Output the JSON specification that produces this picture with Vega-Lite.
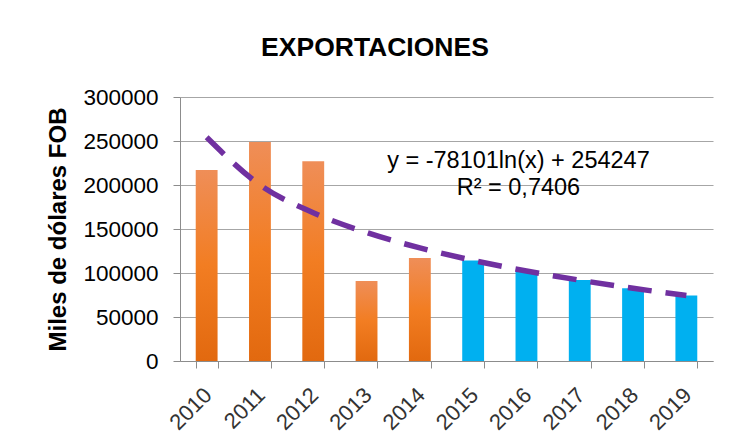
{
  "$schema": "https://vega.github.io/schema/vega-lite/v6.json",
  "width": 533,
  "height": 264,
  "autosize": {"type": "none"},
  "padding": {"left": 180, "top": 97, "right": 21, "bottom": 82},
  "background": "white",
  "config": {
    "font": "Liberation Sans",
    "view": {"stroke": null}
  },
  "title": {
    "text": "EXPORTACIONES",
    "font": "Liberation Sans",
    "fontSize": 26.5,
    "fontWeight": "bold",
    "color": "#000000",
    "anchor": "middle",
    "frame": "bounds",
    "baseline": "alphabetic",
    "offset": 4,
    "dx": -5
  },
  "datasets": {
    "exports": [
      {"year": "2010", "value": 217000, "tipo": "real"},
      {"year": "2011", "value": 248800, "tipo": "real"},
      {"year": "2012", "value": 227000, "tipo": "real"},
      {"year": "2013", "value": 91000, "tipo": "real"},
      {"year": "2014", "value": 117000, "tipo": "real"},
      {"year": "2015", "value": 114300, "tipo": "proyeccion"},
      {"year": "2016", "value": 101500, "tipo": "proyeccion"},
      {"year": "2017", "value": 92000, "tipo": "proyeccion"},
      {"year": "2018", "value": 82800, "tipo": "proyeccion"},
      {"year": "2019", "value": 74400, "tipo": "proyeccion"}
    ],
    "trend": [
      {"year": "2010", "trend": 254247},
      {"year": "2011", "trend": 200110},
      {"year": "2012", "trend": 168440},
      {"year": "2013", "trend": 145973},
      {"year": "2014", "trend": 128546},
      {"year": "2015", "trend": 114306},
      {"year": "2016", "trend": 102266},
      {"year": "2017", "trend": 91836},
      {"year": "2018", "trend": 82636},
      {"year": "2019", "trend": 74406}
    ],
    "notes": [
      {"year": "2016", "pos": 219300, "label": "y = -78101ln(x) + 254247"},
      {"year": "2016", "pos": 188600, "label": "R² = 0,7406"}
    ]
  },
  "encoding": {
    "x": {
      "field": "year",
      "type": "ordinal",
      "scale": {"paddingInner": 0.59, "paddingOuter": 0.295},
      "axis": {
        "title": null,
        "labelAngle": -45,
        "labelFontSize": 22,
        "labelColor": "#333333",
        "labelPadding": 16,
        "labelOffset": -6,
        "domainColor": "#8c8c8c",
        "tickColor": "#8c8c8c",
        "tickSize": 7,
        "tickBand": "extent",
        "grid": false
      }
    }
  },
  "layer": [
    {
      "data": {"name": "exports"},
      "transform": [{"filter": "datum.tipo === 'real'"}],
      "mark": {
        "type": "bar",
        "color": {
          "gradient": "linear",
          "x1": 0, "y1": 0, "x2": 0, "y2": 1,
          "stops": [
            {"offset": 0, "color": "#EF8E58"},
            {"offset": 0.5, "color": "#F27D22"},
            {"offset": 1, "color": "#E2690F"}
          ]
        }
      },
      "encoding": {
        "y": {
          "field": "value",
          "type": "quantitative",
          "scale": {"domain": [0, 300000], "nice": false},
          "axis": {
            "title": "Miles de dólares FOB",
            "titleFontSize": 24,
            "titleFontWeight": "bold",
            "titleColor": "#000000",
            "titlePadding": 12,
            "values": [0, 50000, 100000, 150000, 200000, 250000, 300000],
            "format": "d",
            "labelFontSize": 22.5,
            "labelColor": "#000000",
            "labelPadding": 15,
            "tickSize": 7,
            "tickColor": "#8c8c8c",
            "domainColor": "#8c8c8c",
            "gridColor": "#a6a6a6",
            "gridWidth": 1.2
          }
        }
      }
    },
    {
      "data": {"name": "exports"},
      "transform": [{"filter": "datum.tipo === 'proyeccion'"}],
      "mark": {"type": "bar", "color": "#00B0F0"},
      "encoding": {
        "y": {"field": "value", "type": "quantitative"}
      }
    },
    {
      "data": {"name": "trend"},
      "mark": {
        "type": "line",
        "color": "#7030A0",
        "strokeWidth": 5.5,
        "strokeDash": [24, 14],
        "strokeCap": "butt",
        "interpolate": "monotone"
      },
      "encoding": {
        "y": {"field": "trend", "type": "quantitative"}
      }
    },
    {
      "data": {"name": "notes"},
      "mark": {
        "type": "text",
        "fontSize": 23.5,
        "color": "#000000",
        "align": "center",
        "baseline": "alphabetic",
        "dx": -8
      },
      "encoding": {
        "y": {"field": "pos", "type": "quantitative"},
        "text": {"field": "label"}
      }
    }
  ]
}
